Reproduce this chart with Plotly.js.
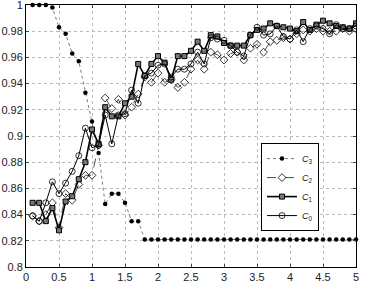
<!DOCTYPE html>
<html>
<head>
<meta charset="utf-8">
<script src="https://cdn.plot.ly/plotly-3.0.1.min.js"></script>
<style>html,body{margin:0;padding:0;background:#fff;}#chart{width:372px;height:286px;}</style>
</head>
<body>
<div id="chart"></div>
<script>
var xs = [0.1,0.2,0.3,0.4,0.5,0.6,0.7,0.8,0.9,1.0,1.1,1.2,1.3,1.4,1.5,1.6,1.7,1.8,1.9,2.0,2.1,2.2,2.3,2.4,2.5,2.6,2.7,2.8,2.9,3.0,3.1,3.2,3.3,3.4,3.5,3.6,3.7,3.8,3.9,4.0,4.1,4.2,4.3,4.4,4.5,4.6,4.7,4.8,4.9,5.0];

var c3 = [1,1,1,0.998,0.983,0.978,0.963,0.957,0.933,0.911,0.887,0.848,0.856,0.856,0.849,0.835,0.835,
  0.821,0.821,0.821,0.821,0.821,0.821,0.821,0.821,0.821,0.821,0.821,0.821,0.821,0.821,0.821,0.821,0.821,
  0.821,0.821,0.821,0.821,0.821,0.821,0.821,0.821,0.821,0.821,0.821,0.821,0.821,0.821,0.821,0.821];

var c2 = [0.839,0.835,0.840,0.849,0.830,0.856,0.851,0.863,0.870,0.870,0.893,0.929,0.921,0.928,0.916,0.922,0.932,
  0.945,0.941,0.948,0.941,0.943,0.937,0.941,0.951,0.958,0.951,0.964,0.962,0.958,0.963,0.964,0.958,0.967,
  0.970,0.964,0.972,0.973,0.975,0.974,0.978,0.981,0.980,0.982,0.980,0.980,0.980,0.982,0.980,0.982];

var c1 = [0.849,0.849,0.835,0.845,0.828,0.850,0.854,0.867,0.880,0.905,0.894,0.922,0.915,0.915,0.925,0.930,0.955,
  0.946,0.955,0.961,0.956,0.943,0.961,0.961,0.965,0.972,0.965,0.977,0.976,0.971,0.969,0.969,0.969,0.977,
  0.981,0.982,0.986,0.984,0.983,0.982,0.980,0.987,0.981,0.985,0.988,0.986,0.984,0.983,0.982,0.986];

var c0 = [0.839,0.835,0.849,0.865,0.856,0.864,0.873,0.885,0.906,0.891,0.893,0.916,0.894,0.916,0.917,0.935,0.925,
  0.946,0.948,0.954,0.955,0.945,0.951,0.951,0.955,0.964,0.955,0.975,0.974,0.973,0.969,0.964,0.961,0.977,
  0.983,0.977,0.978,0.984,0.976,0.974,0.981,0.972,0.982,0.984,0.982,0.978,0.985,0.982,0.982,0.984];

var names = ['<i>C</i><sub>3</sub>','<i>C</i><sub>2</sub>','<i>C</i><sub>1</sub>','<i>C</i><sub>0</sub>'];

var xTickVals = [0,0.5,1,1.5,2,2.5,3,3.5,4,4.5,5];
var xTickText = ['0','0.5','1','1.5','2','2.5','3','3.5','4','4.5','5'];
var yTickVals = [0.8,0.82,0.84,0.86,0.88,0.9,0.92,0.94,0.96,0.98,1];
var yTickText = ['0.8','0.82','0.84','0.86','0.88','0.9','0.92','0.94','0.96','0.98','1'];

var traces = [
  {x: xs, y: c3, name: names[0], type: 'scatter', mode: 'lines+markers', cliponaxis: false,
   line: {color: '#555', width: 0.8, dash: 'dot'},
   marker: {symbol: 'circle', size: 4.5, color: '#000'}},
  {x: xs, y: c2, name: names[1], type: 'scatter', mode: 'lines+markers',
   line: {color: '#222', width: 0.8, dash: 'dash'},
   marker: {symbol: 'diamond-open', size: 6, color: '#000', line: {width: 0.8}}},
  {x: xs, y: c1, name: names[2], type: 'scatter', mode: 'lines+markers',
   line: {color: '#000', width: 1.6},
   marker: {symbol: 'square', size: 5, color: '#777', line: {color: '#000', width: 1}}},
  {x: xs, y: c0, name: names[3], type: 'scatter', mode: 'lines+markers',
   line: {color: '#000', width: 1},
   marker: {symbol: 'circle-open', size: 6, color: '#000', line: {width: 0.8}}}
];

var layout = {
  width: 372, height: 286,
  margin: {l: 26, r: 16, t: 5, b: 19, pad: 0},
  paper_bgcolor: '#fff', plot_bgcolor: '#fff',
  showlegend: true,
  font: {family: 'Liberation Sans, Arial, sans-serif', size: 11, color: '#222'},
  xaxis: {range: [0, 5], tickvals: xTickVals, ticktext: xTickText, ticks: 'inside', ticklen: 3,
    showline: true, mirror: 'ticks', linecolor: '#000', linewidth: 1, zeroline: false,
    showgrid: true, gridcolor: '#bbb', griddash: 'dot', gridwidth: 1, ticklabeloverflow: 'allow',
    tickfont: {size: 11, color: '#222'}},
  yaxis: {range: [0.8, 1], tickvals: yTickVals, ticktext: yTickText, ticks: 'inside', ticklen: 3,
    showline: true, mirror: 'ticks', linecolor: '#000', linewidth: 1, zeroline: false,
    showgrid: true, gridcolor: '#bbb', griddash: 'dot', gridwidth: 1, ticklabeloverflow: 'allow',
    tickfont: {size: 11, color: '#222'}},
  legend: {x: 0.8, y: 0.305, xanchor: 'center', yanchor: 'middle',
    bgcolor: '#fff', bordercolor: '#000', borderwidth: 1,
    font: {size: 9, color: '#222'}, tracegroupgap: 0, itemwidth: 30}
};

Plotly.newPlot('chart', traces, layout, {displayModeBar: false, staticPlot: true});
</script>
</body>
</html>
